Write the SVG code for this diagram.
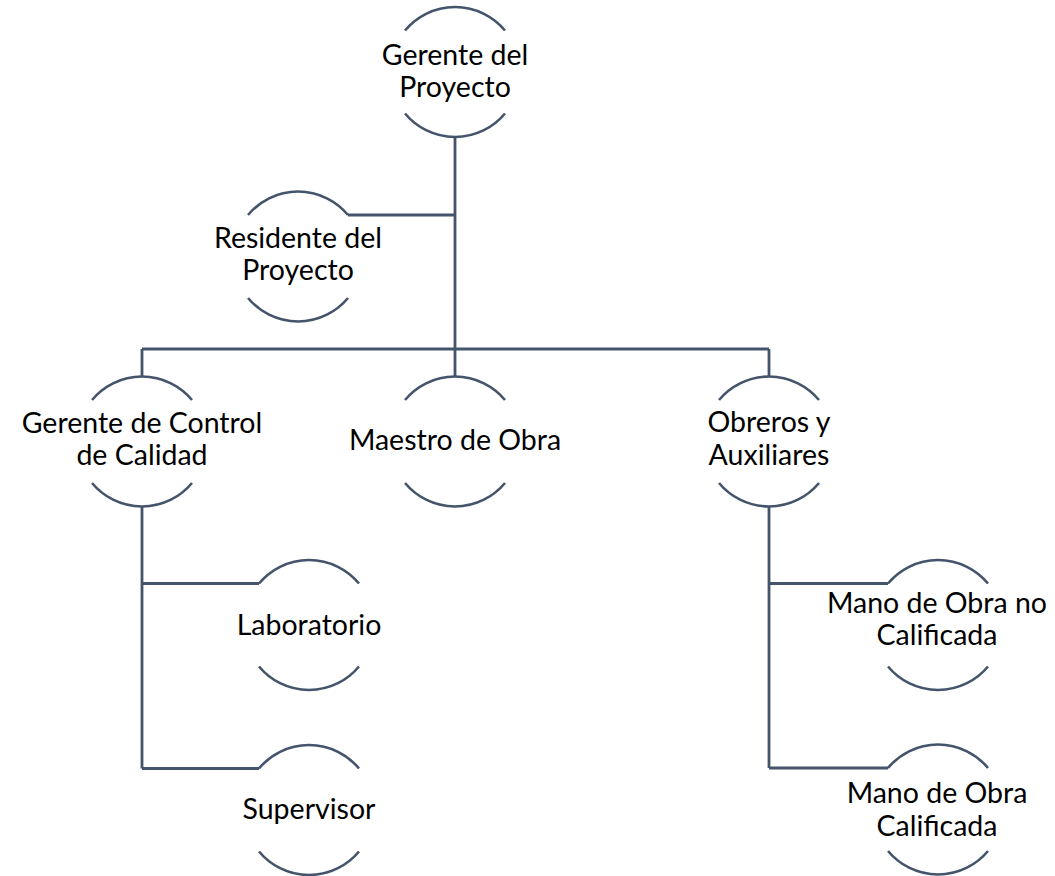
<svg xmlns="http://www.w3.org/2000/svg" width="1055" height="876" viewBox="0 0 1055 876">
<style>
.arc{fill:none;stroke:#44546A;stroke-width:2.6;stroke-linecap:butt}
.con{fill:none;stroke:#44546A;stroke-width:2.8}
.t{font-family:Lato,"Liberation Sans",sans-serif;font-size:28.5px;fill:#000;text-anchor:middle}
</style>
<rect width="1055" height="876" fill="#fff"/>
<g id="connectors">
<path class="con" d="M455,137 V349 M348,215 H455 M142,349 H769 M142,349 V377 M455,349 V377 M769,349 V377"/>
<path class="con" d="M142,506 V768.5 M142,583.5 H259 M142,768.5 H259"/>
<path class="con" d="M769,506 V768 M769,583.5 H888 M769,768 H888"/>
</g>
<g id="n1">
<path class="arc" d="M405,30.5 A65,65 0 0 1 505,30.5 M405,113.5 A65,65 0 0 0 505,113.5"/>
<text class="t" x="455" y="65">Gerente del</text>
<text class="t" x="455" y="97">Proyecto</text>
</g>
<g id="n2">
<path class="arc" d="M248,215 A65,65 0 0 1 348,215 M248,298 A65,65 0 0 0 348,298"/>
<text class="t" x="298" y="248">Residente del</text>
<text class="t" x="298" y="280">Proyecto</text>
</g>
<g id="n3">
<path class="arc" d="M92,400 A65,65 0 0 1 192,400 M92,483 A65,65 0 0 0 192,483"/>
<text class="t" x="142" y="433">Gerente de Control</text>
<text class="t" x="142" y="465">de Calidad</text>
</g>
<g id="n4">
<path class="arc" d="M405,400 A65,65 0 0 1 505,400 M405,483 A65,65 0 0 0 505,483"/>
<text class="t" x="455" y="450">Maestro de Obra</text>
</g>
<g id="n5">
<path class="arc" d="M719,400 A65,65 0 0 1 819,400 M719,483 A65,65 0 0 0 819,483"/>
<text class="t" x="769" y="432">Obreros y</text>
<text class="t" x="769" y="465">Auxiliares</text>
</g>
<g id="n6">
<path class="arc" d="M259,583.5 A65,65 0 0 1 359,583.5 M259,666.5 A65,65 0 0 0 359,666.5"/>
<text class="t" x="309" y="635">Laboratorio</text>
</g>
<g id="n7">
<path class="arc" d="M259,768.5 A65,65 0 0 1 359,768.5 M259,851.5 A65,65 0 0 0 359,851.5"/>
<text class="t" x="309" y="819">Supervisor</text>
</g>
<g id="n8">
<path class="arc" d="M888,583.5 A65,65 0 0 1 988,583.5 M888,666.5 A65,65 0 0 0 988,666.5"/>
<text class="t" x="937" y="613">Mano de Obra no</text>
<text class="t" x="937" y="645">Calificada</text>
</g>
<g id="n9">
<path class="arc" d="M888,768 A65,65 0 0 1 988,768 M888,851 A65,65 0 0 0 988,851"/>
<text class="t" x="937" y="803">Mano de Obra</text>
<text class="t" x="937" y="836">Calificada</text>
</g>
</svg>
